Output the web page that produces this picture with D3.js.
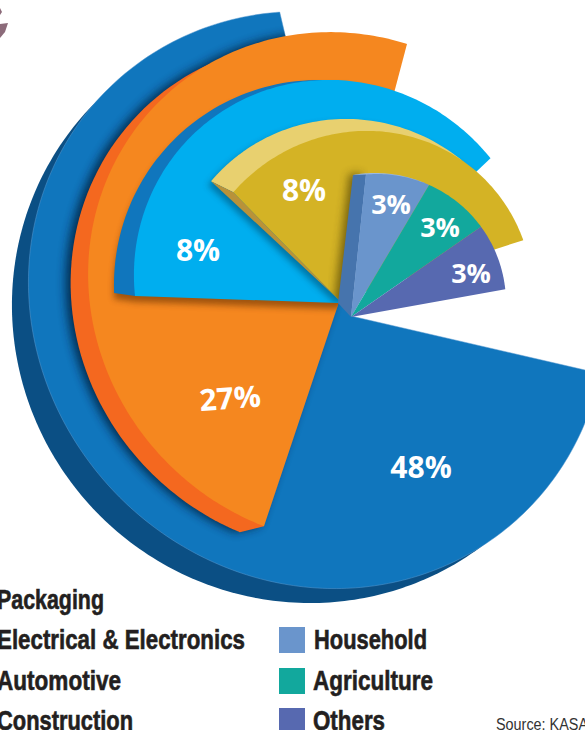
<!DOCTYPE html>
<html>
<head>
<meta charset="utf-8">
<script src="https://cdnjs.cloudflare.com/ajax/libs/d3/7.8.5/d3.min.js"></script>
<style>
  html, body { margin: 0; padding: 0; background: #fff; overflow: hidden; }
  svg { display: block; }
</style>
</head>
<body>
<svg id="chart" width="585" height="730"></svg>
<script>
// Market share by end use
const categories = ["Packaging", "Electrical & Electronics", "Automotive", "Construction", "Household", "Agriculture", "Others"];
const shares = [48, 27, 8, 8, 3, 3, 3];
const faceColors = ["#1076bd", "#f5871f", "#00aeef", "#d4b325", "#6a95cc", "#12a89d", "#5769b0"];

// The fan is an infographic: share maps to a visible sweep in degrees, not a true pie angle.
const sweep = d3.scaleLinear().domain([3, 8, 27, 48]).range([24.6, 47, 73.5, 95.5]);
const firstAngle = 103;

// Every rim is an off-centre, slightly oval outline; apex is where a slice's rays meet.
const rims = [
  { cx: 317, cy: 300, r: 288, oval: 9, apex: [351, 316], tail: 346.8 },
  { cx: 344, cy: 288, r: 255.5, oval: 7, apex: [338, 305], tail: 374.8 },
  { cx: 335, cy: 281, r: 201, oval: 3, apex: [338, 303], tail: 406.5 },
  { cx: 361, cy: 303, r: 172, oval: -3, apex: [339, 300], tail: 432, nudge: -3.5 },
  { cx: 377, cy: 303, r: 129, oval: 0, apex: [351, 317] },
  { cx: 377, cy: 303, r: 129, oval: 0, apex: [351, 317] },
  { cx: 377, cy: 303, r: 129, oval: 0, apex: [351, 317] }
];

// Raised edges drawn behind the faces
const darkRim = { cx: 304, cy: 311, r: 292, oval: 3 };
const shadeRim = { cx: 326, cy: 297, r: 255, oval: 7 };
const cyanBackRim = { cx: 323, cy: 289, r: 209, oval: 2 };
const paleGoldRim = { cx: 350, cy: 299.5, r: 180.5, oval: 2 };
const sliverRim = { cx: 375, cy: 300, r: 127, oval: 0 };
const householdBase = [338, 303];

const labelSpots = [[421, 467, 30, 0], [230, 398, 30, -4], [198, 250, 30, 0], [304, 190, 30, 0], [391, 204, 27, 0], [440, 227, 27, 0], [471, 273, 27, 0]];
const legendSpots = [[-3, 609, 107], [-3, 649, 248], [-3, 690, 124], [-3, 730, 136], [314, 649, 113], [313, 690, 120], [313, 730, 72]];
const swatchSpots = [[-40, 587], [-40, 627], [-40, 668], [-40, 708], [279, 627], [279, 668], [279, 708]];

const toXY = deg => [Math.sin(deg * Math.PI / 180), -Math.cos(deg * Math.PI / 180)];

// Walks a ray from the apex outwards until it leaves the rim outline.
function rimPoint(rim, apex, deg) {
  const [ux, uy] = toXY(deg);
  let lo = 0, hi = 900;
  for (let i = 0; i < 40; i++) {
    const t = (lo + hi) / 2;
    const qx = apex[0] + ux * t - rim.cx, qy = apex[1] + uy * t - rim.cy;
    const theta = Math.atan2(qx, -qy) * 180 / Math.PI;
    const reach = rim.r + rim.oval * Math.cos(2 * (theta - 315) * Math.PI / 180);
    if (Math.hypot(qx, qy) < reach) lo = t; else hi = t;
  }
  return [apex[0] + ux * lo, apex[1] + uy * lo];
}

const line = d3.line();
function fanPath(rim, apex, a0, a1) {
  const pts = d3.range(a0, a1, 1).concat(a1).map(a => rimPoint(rim, apex, a));
  return line([apex, ...pts]) + "Z";
}

// Cumulative slice angles from the value scale
let cursor = firstAngle;
const slices = shares.map((v, i) => {
  const rim = rims[i];
  const start = cursor + (rim.nudge || 0);
  cursor += sweep(v);
  const end = rim.tail || cursor;
  return { i, v, rim, start, end, trueEnd: cursor, d: fanPath(rim, rim.apex, start, end) };
});

const svg = d3.select("#chart");
const defs = svg.append("defs");
[["soft5", 5], ["soft3", 3], ["soft4", 4]].forEach(([id, s]) => {
  defs.append("filter").attr("id", id).attr("x", "-20%").attr("y", "-20%").attr("width", "140%").attr("height", "140%")
    .append("feGaussianBlur").attr("stdDeviation", s);
});
slices.slice(0, 4).forEach(s => {
  defs.append("clipPath").attr("id", "face" + s.i).append("path").attr("d", s.d);
});

const pie = svg.append("g");
const put = (d, fill) => pie.append("path").attr("d", d).attr("fill", fill);
const castShadow = (d, under, dx, dy, blur, alpha, tint) => {
  pie.append("g").attr("clip-path", `url(#face${under})`)
    .append("path").attr("d", d).attr("fill", tint)
    .attr("opacity", alpha).attr("filter", `url(#${blur})`)
    .attr("transform", `translate(${dx},${dy})`);
};

// Packaging, with its dark base and a fine light seam
put(fanPath(darkRim, slices[0].rim.apex, 147.3, 313.5), "#0b4f84");
put(slices[0].d, faceColors[0]).attr("stroke", "#5a9bd0").attr("stroke-width", 0.5);

// Electrical & Electronics
const orangeCorner = rimPoint(slices[1].rim, slices[1].rim.apex, slices[1].start);
const shade = fanPath(shadeRim, orangeCorner, 256, 353.2);
castShadow(shade + slices[1].d, 0, -5, 0, "soft5", 0.85, "#04223f");
put(shade, "#f4681f");
put(slices[1].d, faceColors[1]);

// Automotive
const cyanCorner = rimPoint(slices[2].rim, slices[2].rim.apex, slices[2].start);
const cyanBack = fanPath(cyanBackRim, cyanCorner, 277.8, 404.7);
castShadow(cyanBack + slices[2].d, 1, 0, 6, "soft3", 0.55, "#5a2a05");
put(cyanBack, "#1076bd");
put(slices[2].d, faceColors[2]);

// Construction, with its pale upper edge and brown cut side
const goldCorner = rimPoint(slices[3].rim, slices[3].rim.apex, slices[3].start);
const paleTip = rimPoint(paleGoldRim, goldCorner, 296.6);
const paleGold = fanPath(paleGoldRim, goldCorner, 296.6, 442);
const cutSide = line([slices[3].rim.apex, goldCorner, paleTip]) + "Z";
castShadow(paleGold + cutSide + slices[3].d, 2, -3, 4, "soft3", 0.5, "#06405f");
put(paleGold, "#e8d06f");
put(cutSide, "#b8923a");
put(slices[3].d, faceColors[3]);

// Household raised side, then the three small slices
const house = slices[4];
const houseCorner = rimPoint(house.rim, house.rim.apex, house.start);
const sliverStart = rimPoint(sliverRim, house.rim.apex, 360.8);
const houseSide = line([house.rim.apex, houseCorner, sliverStart, householdBase]) + "Z";
castShadow(houseSide, 3, -4, -1, "soft4", 0.6, "#3d3005");
put(fanPath(sliverRim, house.rim.apex, 360.8, 389), "#9db9df");
put(houseSide, "#4674ad");
slices.slice(4).forEach(s => put(s.d, faceColors[s.i]));

// Value labels
svg.append("g").selectAll("text").data(slices).join("text")
  .attr("transform", s => `translate(${labelSpots[s.i][0]},${labelSpots[s.i][1]}) rotate(${labelSpots[s.i][3]})`)
  .attr("text-anchor", "middle").attr("dy", "0.36em")
  .attr("font-family", "'Open Sans', sans-serif").attr("font-weight", 700)
  .attr("font-size", s => labelSpots[s.i][2]).attr("fill", "#fff")
  .text(s => s.v + "%");

// Legend
const legend = svg.append("g");
legend.selectAll("rect").data(categories).join("rect")
  .attr("x", (c, i) => swatchSpots[i][0]).attr("y", (c, i) => swatchSpots[i][1])
  .attr("width", 26).attr("height", 26).attr("fill", (c, i) => faceColors[i]);
legend.selectAll("text").data(categories).join("text")
  .attr("x", (c, i) => legendSpots[i][0]).attr("y", (c, i) => legendSpots[i][1])
  .attr("textLength", (c, i) => legendSpots[i][2]).attr("lengthAdjust", "spacingAndGlyphs")
  .attr("font-family", "'Liberation Sans', sans-serif")
  .attr("font-weight", 700).attr("font-size", 27).attr("fill", "#231f20")
  .attr("stroke", "#231f20").attr("stroke-width", 0.6)
  .text(c => c);

svg.append("text").attr("x", 496).attr("y", 730)
  .attr("font-family", "'Liberation Sans', sans-serif")
  .attr("textLength", 92).attr("lengthAdjust", "spacingAndGlyphs")
  .attr("font-size", 16).attr("fill", "#333").text("Source: KASA");

// Sliver of a neighbouring graphic at the top-left margin
svg.append("path").attr("fill", "#8c6b7a")
  .attr("d", line([[0, 24], [8, 23], [5, 32], [0, 38]]) + "Z");
svg.append("path").attr("fill", "#8c6b7a")
  .attr("d", line([[0, 8], [2, 12], [0, 15]]) + "Z");
</script>
</body>
</html>
